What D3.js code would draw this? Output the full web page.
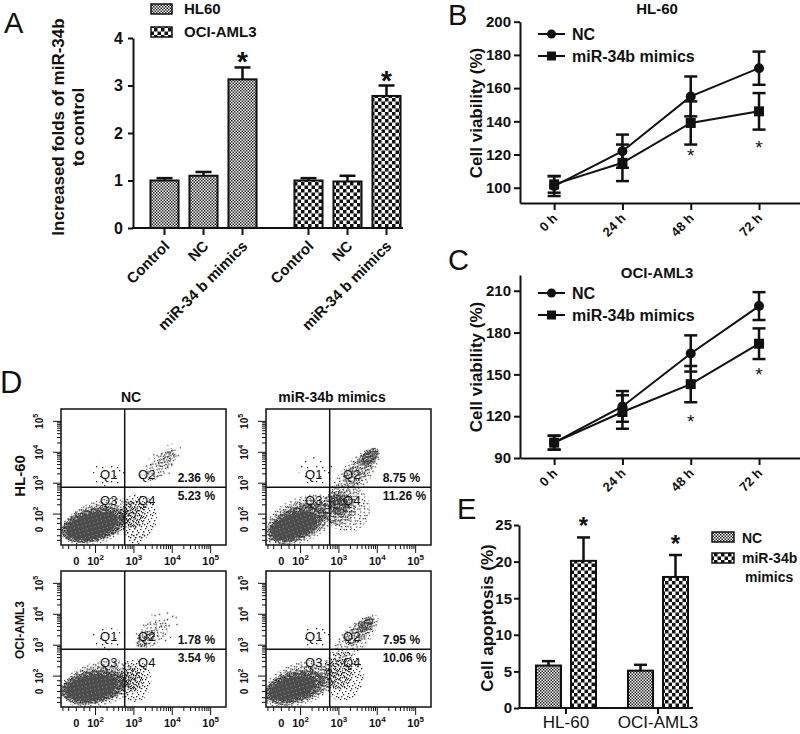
<!DOCTYPE html>
<html><head><meta charset="utf-8">
<script src="https://cdn.jsdelivr.net/npm/d3@7"></script>
<style>body{margin:0;background:#fff} svg{display:block} text{font-family:"Liberation Sans",Arial,Helvetica,sans-serif;fill:#111}</style>
</head><body><svg id="c" width="800" height="734"></svg>
<script>
// ---------------- DATA ----------------
// Panel A
const groupsA = ["HL60", "OCI-AML3"];
const condsA = ["Control", "NC", "miR-34 b mimics"];
const foldHL60 = [1.0, 1.1, 3.13];
const foldHL60Err = [0.05, 0.08, 0.25];
const foldOCI = [1.0, 0.98, 2.78];
const foldOCIErr = [0.05, 0.12, 0.22];
const starA = [false, false, true];
const ticksA = [0, 1, 2, 3, 4];
// Panels B, C
const hours = [0, 24, 48, 72];
const hourLabels = ["0 h", "24 h", "48 h", "72 h"];
const seriesBC = ["NC", "miR-34b mimics"];
const hlNC = [101, 122, 155, 172];
const hlNCErr = [6, 10, 12, 10];
const hlMim = [102, 115, 139, 146];
const hlMimErr = [5, 11, 13, 11];
const hlStarAt = [null, null, 121.5, 126.5];
const ociNC = [101, 127, 165, 199];
const ociNCErr = [5, 11, 13, 10];
const ociMim = [101, 123, 143, 172];
const ociMimErr = [5, 12, 13, 11];
const ociStarAt = [null, null, 118.7, 152.5];
const ticksB = [100, 120, 140, 160, 180, 200];
const ticksC = [90, 120, 150, 180, 210];
// Panel E
const groupsE = ["HL-60", "OCI-AML3"];
const seriesE = ["NC", "miR-34b mimics"];
const apopNC = [5.8, 5.1];
const apopNCErr = [0.6, 0.8];
const apopMim = [20.1, 17.9];
const apopMimErr = [3.2, 3.0];
const ticksE = [0, 5, 10, 15, 20, 25];
// Panel D (flow cytometry, log-decade units)
const flowCols = ["NC", "miR-34b mimics"];
const flowRows = ["HL-60", "OCI-AML3"];
const flowQ2 = [[2.36, 8.75], [1.78, 7.95]];
const flowQ4 = [[5.23, 11.26], [3.54, 10.06]];
const flowTickPos = [1.5, 2, 3, 4, 5];
const flowTickLabels = ["0", "10^2", "10^3", "10^4", "10^5"];
const flowGate = [2.76, 2.87];
// density blobs: [cx, cy, rx, ry, angle(deg, ccw), density level]
const flowBlobs = [
  [ // HL-60 NC
    [[2.1,1.75,1.05,0.68,20,1],[2.0,1.7,0.92,0.58,15,2],[1.95,1.65,0.85,0.52,15,3],[1.9,1.62,0.68,0.4,15,4],
     [3.1,1.9,0.5,0.75,0,1],[3.0,2.0,0.3,0.45,0,2],[3.05,1.3,0.25,0.3,0,1],
     [3.7,3.6,0.7,0.42,45,0],[3.7,3.6,0.55,0.3,45,1],[3.85,3.8,0.3,0.15,45,2],[2.3,3.3,0.45,0.4,0,0]],
    // HL-60 mimics
    [[2.0,1.8,1.05,0.72,25,1],[1.95,1.75,0.92,0.6,25,2],[1.9,1.7,0.8,0.5,25,3],[1.82,1.62,0.62,0.38,20,4],
     [3.2,2.2,0.6,0.8,30,1],[3.0,2.2,0.45,0.55,30,2],[3.0,2.3,0.25,0.35,30,3],
     [3.4,3.2,0.95,0.45,50,1],[3.55,3.45,0.6,0.32,50,2],[3.8,3.85,0.3,0.2,45,3],[2.4,3.4,0.45,0.45,0,0]]
  ],
  [ // OCI NC
    [[2.1,1.75,1.05,0.72,15,1],[2.0,1.7,0.92,0.6,12,2],[1.95,1.65,0.85,0.52,10,3],[1.88,1.62,0.68,0.4,10,4],
     [3.0,1.85,0.45,0.7,0,1],[3.0,1.9,0.25,0.4,0,2],
     [3.6,3.5,0.7,0.5,40,0],[3.5,3.4,0.5,0.35,40,1],[3.3,3.2,0.3,0.2,40,2],[2.3,3.2,0.4,0.4,0,0]],
    // OCI mimics
    [[2.0,1.75,1.05,0.68,20,1],[1.95,1.7,0.92,0.57,18,2],[1.85,1.65,0.8,0.48,15,3],[1.78,1.6,0.62,0.35,15,4],
     [3.1,2.0,0.55,0.8,0,1],[3.0,2.1,0.35,0.5,0,2],
     [3.4,3.2,0.85,0.4,45,1],[3.55,3.45,0.5,0.27,45,2],[3.7,3.65,0.25,0.15,45,3],[2.4,3.3,0.4,0.4,0,0]]
  ]
];

// ---------------- SETUP ----------------
const svg = d3.select("#c");
const defs = svg.append("defs");
function checker(id, s, color) {
  const p = defs.append("pattern").attr("id", id).attr("patternUnits", "userSpaceOnUse")
    .attr("width", 2 * s).attr("height", 2 * s);
  p.append("rect").attr("width", 2 * s).attr("height", 2 * s).attr("fill", "#fff");
  p.append("rect").attr("width", s).attr("height", s).attr("fill", color);
  p.append("rect").attr("x", s).attr("y", s).attr("width", s).attr("height", s).attr("fill", color);
}
checker("fine", 1.5, "#222");
checker("coarse", 3.5, "#111");
// stipple textures for flow density (transparent backgrounds, so layers add up)
const stip = [
  {w: 15, dots: [[2,3],[9,7],[5,12],[13,1],[11,13]]},
  {w: 11, dots: [[0,2],[3,7],[5,1],[7,9],[9,4],[2,10],[10,0],[6,5],[4,4],[8,7],[1,6]]},
  {w: 9, dots: [[0,0],[2,5],[4,2],[6,7],[8,3],[1,8],[7,0],[5,5],[3,3],[0,4],[6,2],[8,8],[2,1],[4,7]]},
  {w: 7, dots: [[0,0],[1,3],[2,6],[3,1],[4,4],[5,0],[6,3],[0,5],[2,2],[4,6],[5,5],[6,1],[1,0],[3,5],[5,2],[0,2],[3,3],[6,6]]},
  {w: 4, dots: null}
];
stip.forEach((s, i) => {
  const p = defs.append("pattern").attr("id", "st" + i).attr("patternUnits", "userSpaceOnUse")
    .attr("width", s.w).attr("height", s.w);
  if (s.dots) s.dots.forEach(d => p.append("rect").attr("x", d[0]).attr("y", d[1])
    .attr("width", 1.3).attr("height", 1.3).attr("fill", "#2a2a2a"));
  else { p.append("rect").attr("width", 4).attr("height", 4).attr("fill", "#4c4c4c");
         p.append("rect").attr("x", 1).attr("y", 2).attr("width", 1).attr("height", 1).attr("fill", "#8a8a8a"); }
});

function styleAxis(g, size, bold) {
  g.selectAll("path,line").attr("stroke", "#111").attr("stroke-width", 2);
  g.selectAll("text").style("font-size", size + "px").style("font-weight", bold ? "bold" : "normal")
    .attr("fill", "#111");
}
function letter(t, x, y, size) {
  svg.append("text").attr("x", x).attr("y", y).text(t).style("font-size", size + "px");
}

// ---------------- PANEL A ----------------
{
  const yA = d3.scaleLinear([0, 4], [228, 38]);
  const gx = d3.scalePoint(groupsA, [203.5, 347.5]);
  const cx = d3.scaleBand(condsA, [-58.5, 58.5]).paddingInner(0.28).paddingOuter(0.14);
  const ga = svg.append("g").attr("transform", "translate(133,0)");
  styleAxis(ga.call(d3.axisLeft(yA).tickValues(ticksA).tickSize(5).tickPadding(5).tickSizeOuter(0).tickFormat(d3.format("d"))), 16, true);
  const data = [[foldHL60, foldHL60Err, "fine"], [foldOCI, foldOCIErr, "coarse"]];
  groupsA.forEach((g, gi) => {
    condsA.forEach((c, ci) => {
      const x0 = gx(g) + cx(c), w = cx.bandwidth(), v = data[gi][0][ci], e = data[gi][1][ci];
      const xc = x0 + w / 2;
      svg.append("line").attr("x1", xc).attr("x2", xc).attr("y1", yA(v)).attr("y2", yA(v + e)).attr("stroke", "#111").attr("stroke-width", 2.5);
      svg.append("line").attr("x1", xc - 8).attr("x2", xc + 8).attr("y1", yA(v + e)).attr("y2", yA(v + e)).attr("stroke", "#111").attr("stroke-width", 2.5);
      svg.append("rect").attr("x", x0).attr("y", yA(v)).attr("width", w).attr("height", yA(0) - yA(v))
        .attr("fill", `url(#${data[gi][2]})`).attr("stroke", "#111").attr("stroke-width", 2);
      if (starA[ci]) svg.append("text").attr("x", xc).attr("y", yA(v + e) + 4).attr("text-anchor", "middle")
        .style("font-size", "28px").style("font-weight", "bold").text("*");
      svg.append("line").attr("x1", xc).attr("x2", xc).attr("y1", 228).attr("y2", 235).attr("stroke", "#111").attr("stroke-width", 2);
      svg.append("text").attr("transform", `translate(${xc + 6},247) rotate(-45)`).attr("text-anchor", "end")
        .style("font-size", "15px").style("font-weight", "bold").text(c);
    });
  });
  svg.append("line").attr("x1", 132).attr("x2", 403).attr("y1", 228).attr("y2", 228).attr("stroke", "#111").attr("stroke-width", 2);
  const yl = svg.append("text").attr("transform", "translate(0,127) rotate(-90)").attr("text-anchor", "middle")
    .style("font-size", "17px").style("font-weight", "bold");
  yl.append("tspan").attr("x", 0).attr("y", 64).text("Increased folds of miR-34b");
  yl.append("tspan").attr("x", 0).attr("y", 84).text("to control");
  // legend
  [["fine", groupsA[0], 4], ["coarse", groupsA[1], 27]].forEach(([p, t, y]) => {
    svg.append("rect").attr("x", 151).attr("y", y).attr("width", 21).attr("height", 10)
      .attr("fill", `url(#${p})`).attr("stroke", "#111").attr("stroke-width", 1.5);
    svg.append("text").attr("x", 184).attr("y", y + 10).style("font-size", "15px").style("font-weight", "bold").text(t);
  });
  letter("A", 4, 33, 29);
}

// ---------------- PANELS B & C ----------------
function linePanel(o) {
  const x = d3.scaleLinear([-12, 86.4], [520, 800]);
  const y = d3.scaleLinear(o.domain, [o.axisY, o.topY]);
  const gy = svg.append("g").attr("transform", "translate(520,0)");
  styleAxis(gy.call(d3.axisLeft(y).tickValues(o.ticks).tickSize(6).tickPadding(3).tickSizeOuter(0)), 15, true);
  const gxA = svg.append("g").attr("transform", `translate(0,${o.axisY})`);
  styleAxis(gxA.call(d3.axisBottom(x).tickValues(hours).tickSize(7).tickSizeOuter(0).tickFormat(() => "")), 13, true);
  hours.forEach((h, i) => svg.append("text").attr("transform", `translate(${x(h) + 4},${o.axisY + 16}) rotate(-45)`)
    .attr("text-anchor", "end").style("font-size", "13px").style("font-weight", "bold").text(hourLabels[i]));
  const series = [[o.nc, o.ncErr, "circle"], [o.mim, o.mimErr, "square"]];
  const line = d3.line().x((d, i) => x(hours[i])).y(d => y(d));
  series.forEach(([vals, errs, shape]) => {
    svg.append("path").attr("d", line(vals)).attr("fill", "none").attr("stroke", "#111").attr("stroke-width", 2);
    vals.forEach((v, i) => {
      const xc = x(hours[i]);
      svg.append("line").attr("x1", xc).attr("x2", xc).attr("y1", y(v - errs[i])).attr("y2", y(v + errs[i])).attr("stroke", "#111").attr("stroke-width", 2.5);
      [v - errs[i], v + errs[i]].forEach(q => svg.append("line").attr("x1", xc - 6.5).attr("x2", xc + 6.5)
        .attr("y1", y(q)).attr("y2", y(q)).attr("stroke", "#111").attr("stroke-width", 2.5));
      if (shape === "circle") svg.append("circle").attr("cx", xc).attr("cy", y(v)).attr("r", 5).attr("fill", "#111");
      else svg.append("rect").attr("x", xc - 5).attr("y", y(v) - 5).attr("width", 10).attr("height", 10).attr("fill", "#111");
    });
  });
  o.stars.forEach((s, i) => {
    if (s !== null) svg.append("text").attr("x", x(hours[i])).attr("y", y(s) + 10).attr("text-anchor", "middle")
      .style("font-size", "19px").text("*");
  });
  // legend
  [[seriesBC[0], "circle", o.legY], [seriesBC[1], "square", o.legY + 22]].forEach(([t, sh, ly]) => {
    svg.append("line").attr("x1", 538).attr("x2", 565).attr("y1", ly).attr("y2", ly).attr("stroke", "#111").attr("stroke-width", 2);
    if (sh === "circle") svg.append("circle").attr("cx", 551.5).attr("cy", ly).attr("r", 4.5).attr("fill", "#111");
    else svg.append("rect").attr("x", 547).attr("y", ly - 4.5).attr("width", 9).attr("height", 9).attr("fill", "#111");
    svg.append("text").attr("x", 572).attr("y", ly + 6).style("font-size", "16px").style("font-weight", "bold").text(t);
  });
  svg.append("text").attr("x", 657).attr("y", o.titleY).attr("text-anchor", "middle")
    .style("font-size", "15px").style("font-weight", "bold").text(o.title);
  svg.append("text").attr("transform", `translate(482,${o.labY}) rotate(-90)`).attr("text-anchor", "middle")
    .style("font-size", "17px").style("font-weight", "bold").text("Cell viability (%)");
  letter(o.letter, 448, o.letY, 29);
}
linePanel({domain: [90.8, 200], axisY: 203, topY: 21.7, ticks: ticksB, nc: hlNC, ncErr: hlNCErr, mim: hlMim, mimErr: hlMimErr,
  stars: hlStarAt, title: "HL-60", titleY: 14, labY: 113, letter: "B", letY: 25, legY: 34});
linePanel({domain: [90, 221.3], axisY: 458, topY: 275, ticks: ticksC, nc: ociNC, ncErr: ociNCErr, mim: ociMim, mimErr: ociMimErr,
  stars: ociStarAt, title: "OCI-AML3", titleY: 278, labY: 367, letter: "C", letY: 270, legY: 293});

// ---------------- PANEL E ----------------
{
  const yE = d3.scaleLinear([0, 25], [708, 525]);
  const gx = d3.scalePoint(groupsE, [566, 658]);
  const sx = d3.scaleBand(seriesE, [-35, 35]).paddingInner(0.286).paddingOuter(0.143);
  const gy = svg.append("g").attr("transform", "translate(519,0)");
  styleAxis(gy.call(d3.axisLeft(yE).tickValues(ticksE).tickSize(5).tickPadding(2).tickSizeOuter(0)), 15, true);
  const data = [[apopNC, apopNCErr, "fine"], [apopMim, apopMimErr, "coarse"]];
  groupsE.forEach((g, gi) => {
    seriesE.forEach((s, si) => {
      const x0 = gx(g) + sx(s), w = sx.bandwidth(), v = data[si][0][gi], e = data[si][1][gi], xc = x0 + w / 2;
      svg.append("line").attr("x1", xc).attr("x2", xc).attr("y1", yE(v)).attr("y2", yE(v + e)).attr("stroke", "#111").attr("stroke-width", 2.5);
      svg.append("line").attr("x1", xc - 6.5).attr("x2", xc + 6.5).attr("y1", yE(v + e)).attr("y2", yE(v + e)).attr("stroke", "#111").attr("stroke-width", 2.5);
      svg.append("rect").attr("x", x0).attr("y", yE(v)).attr("width", w).attr("height", yE(0) - yE(v))
        .attr("fill", `url(#${data[si][2]})`).attr("stroke", "#111").attr("stroke-width", 2);
      if (si === 1) svg.append("text").attr("x", xc).attr("y", yE(v + e) - 3).attr("text-anchor", "middle")
        .style("font-size", "24px").style("font-weight", "bold").text("*");
    });
    svg.append("line").attr("x1", gx(g)).attr("x2", gx(g)).attr("y1", 708).attr("y2", 714).attr("stroke", "#111").attr("stroke-width", 2);
    svg.append("text").attr("x", gx(g)).attr("y", 728).attr("text-anchor", "middle").style("font-size", "17px").text(g);
  });
  svg.append("line").attr("x1", 518).attr("x2", 693).attr("y1", 708).attr("y2", 708).attr("stroke", "#111").attr("stroke-width", 2);
  svg.append("text").attr("transform", "translate(493,618) rotate(-90)").attr("text-anchor", "middle")
    .style("font-size", "17px").style("font-weight", "bold").text("Cell apoptosis (%)");
  [["fine", 532], ["coarse", 553]].forEach(([p, y]) => svg.append("rect").attr("x", 712).attr("y", y).attr("width", 22).attr("height", 10)
    .attr("fill", `url(#${p})`).attr("stroke", "#111").attr("stroke-width", 1.5));
  svg.append("text").attr("x", 742).attr("y", 543).style("font-size", "14px").style("font-weight", "bold").text(seriesE[0]);
  const parts = seriesE[1].split(" ");
  const t2 = svg.append("text").style("font-size", "14px").style("font-weight", "bold");
  t2.append("tspan").attr("x", 742).attr("y", 563).text(parts[0]);
  t2.append("tspan").attr("x", 745).attr("y", 582).text(parts[1]);
  letter("E", 457, 519, 29);
}

// ---------------- PANEL D ----------------
{
  const colX = [61, 266], rowY = [409, 571], W = 165, H = 136;
  const fx = d3.scaleLinear([1.1, 5.4], [0, W]);
  const fy = d3.scaleLinear([1.0, 5.4], [H, 0]);
  const kx = fx(2) - fx(1), ky = fy(1) - fy(2);
  defs.append("clipPath").attr("id", "fclip").append("rect").attr("width", W).attr("height", H);
  function supLabel(sel, lab, big, small) {
    const parts = lab.split("^");
    sel.append("tspan").style("font-size", big + "px").text(parts[0]);
    if (parts[1]) sel.append("tspan").attr("dy", -5).style("font-size", small + "px").text(parts[1]);
  }
  flowRows.forEach((r, ri) => flowCols.forEach((c, ci) => {
    const g = svg.append("g").attr("transform", `translate(${colX[ci]},${rowY[ri]})`);
    const cg = g.append("g").attr("clip-path", "url(#fclip)");
    flowBlobs[ri][ci].slice().sort((a, b) => a[5] - b[5]).forEach(b => {
      const ex = fx(b[0]), ey = fy(b[1]);
      cg.append("ellipse").attr("cx", ex).attr("cy", ey).attr("rx", b[2] * kx).attr("ry", b[3] * ky)
        .attr("transform", `rotate(${-b[4]},${ex},${ey})`).attr("fill", `url(#st${b[5]})`);
    });
    g.append("rect").attr("width", W).attr("height", H).attr("fill", "none").attr("stroke", "#111").attr("stroke-width", 1.5);
    const gxp = fx(flowGate[0]), gyp = fy(flowGate[1]);
    g.append("line").attr("x1", gxp).attr("x2", gxp).attr("y1", 0).attr("y2", H).attr("stroke", "#111").attr("stroke-width", 1.5);
    g.append("line").attr("x1", 0).attr("x2", W).attr("y1", gyp).attr("y2", gyp).attr("stroke", "#111").attr("stroke-width", 1.5);
    // minor/major ticks (log decades)
    const tv = [];
    [1.15, 1.3, 1.5, 1.7, 1.85].forEach(v => tv.push([v, 4]));
    [2, 3, 4].forEach(k => { tv.push([k, 8]); for (let m = 2; m <= 9; m++) tv.push([k + Math.log10(m), 4]); });
    tv.push([5, 8]);
    tv.forEach(([v, len]) => {
      if (v <= 5.4) {
        g.append("line").attr("x1", 0).attr("x2", -len).attr("y1", fy(v)).attr("y2", fy(v)).attr("stroke", "#111").attr("stroke-width", 1);
        g.append("line").attr("y1", H).attr("y2", H + len).attr("x1", fx(v)).attr("x2", fx(v)).attr("stroke", "#111").attr("stroke-width", 1);
      }
    });
    flowTickPos.forEach((p, i) => {
      const tx = g.append("text").attr("x", fx(p)).attr("y", H + 20).attr("text-anchor", "middle").style("font-weight", "bold");
      supLabel(tx, flowTickLabels[i], 11, 8);
      const ty = g.append("text").attr("transform", `translate(-18,${fy(p)}) rotate(-90)`).attr("text-anchor", "middle").style("font-weight", "bold");
      supLabel(ty, flowTickLabels[i], 10, 7);
    });
    // quadrant labels
    [["Q1", -16, -8], ["Q2", 22, -8], ["Q3", -16, 18], ["Q4", 22, 18]].forEach(([q, dx, dy]) =>
      g.append("text").attr("x", gxp + dx).attr("y", gyp + dy).attr("text-anchor", "middle")
        .style("font-size", "13px").attr("fill", "#222").text(q));
    g.append("text").attr("x", gxp + 53).attr("y", gyp - 5).style("font-size", "12px").style("font-weight", "bold").text(flowQ2[ri][ci] + " %");
    g.append("text").attr("x", gxp + 53).attr("y", gyp + 13).style("font-size", "12px").style("font-weight", "bold").text(flowQ4[ri][ci] + " %");
  }));
  flowCols.forEach((c, ci) => svg.append("text").attr("x", colX[ci] + (ci ? 66 : 70)).attr("y", 402).attr("text-anchor", "middle")
    .style("font-size", "14px").style("font-weight", "bold").text(c));
  svg.append("text").attr("transform", "translate(25,476) rotate(-90)").attr("text-anchor", "middle")
    .style("font-size", "15px").style("font-weight", "bold").text(flowRows[0]);
  svg.append("text").attr("transform", "translate(24,630) rotate(-90)").attr("text-anchor", "middle")
    .style("font-size", "12px").style("font-weight", "bold").text(flowRows[1]);
  letter("D", 0, 393, 31);
}
</script></body></html>
